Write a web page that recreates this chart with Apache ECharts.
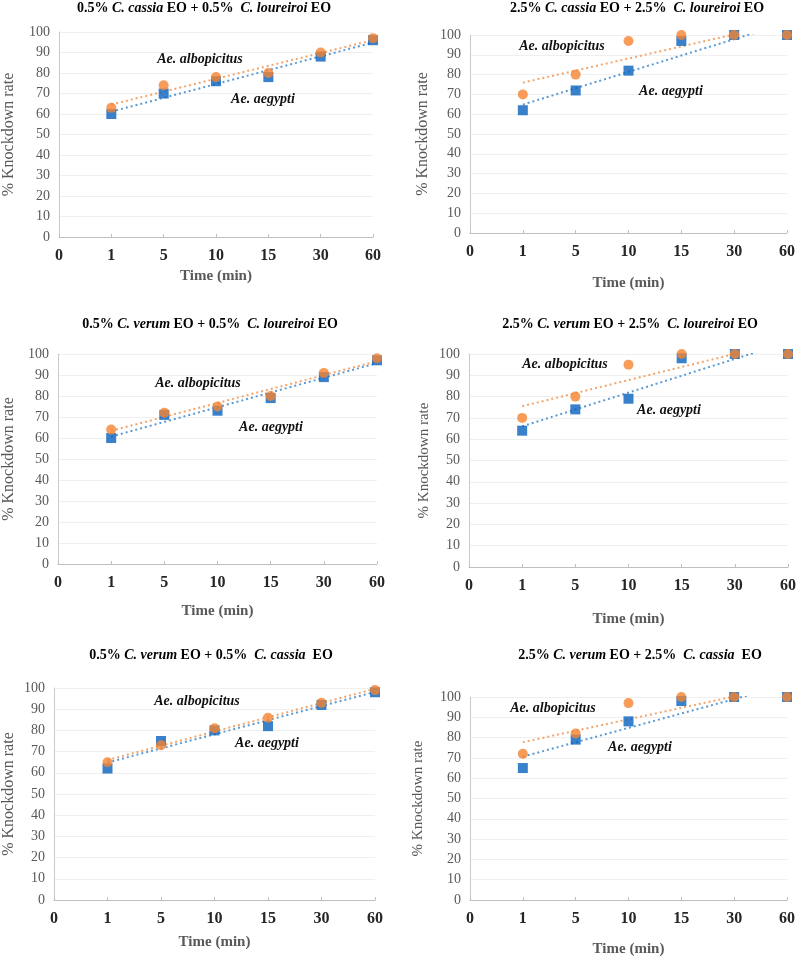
<!DOCTYPE html>
<html>
<head>
<meta charset="utf-8">
<script src="https://cdn.jsdelivr.net/npm/echarts@6/dist/echarts.min.js"></script>
<style>
html,body{margin:0;padding:0;background:#fff;}
#c{width:799px;height:958px;}
</style>
</head>
<body>
<div id="c"></div>
<script>
// ---- data ----
const xLabels = ['0', '1', '5', '10', '15', '30', '60'];
const xIdx = [1, 2, 3, 4, 5, 6];

const aegypti1 = [60, 70, 76, 78, 88, 96];
const albo1    = [63, 74, 78, 80, 90, 97];
const aegypti2 = [62, 72, 82, 97, 100, 100];
const albo2    = [70, 80, 97, 100, 100, 100];
const aegypti3 = [60, 71, 73, 79, 89, 97];
const albo3    = [64, 72, 75, 80, 91, 98];
const aegypti4 = [64, 74, 79, 98, 100, 100];
const albo4    = [70, 80, 95, 100, 100, 100];
const aegypti5 = [62, 75, 80, 82, 92, 98];
const albo5    = [65, 73, 81, 86, 93, 99];
const aegypti6 = [65, 79, 88, 98, 100, 100];
const albo6    = [72, 82, 97, 100, 100, 100];

const titles = [
  ['0.5% ', 'C. cassia', ' EO + 0.5%  ', 'C. loureiroi', ' EO'],
  ['2.5% ', 'C. cassia', ' EO + 2.5%  ', 'C. loureiroi', ' EO'],
  ['0.5% ', 'C. verum', ' EO + 0.5%  ', 'C. loureiroi', ' EO'],
  ['2.5% ', 'C. verum', ' EO + 2.5%  ', 'C. loureiroi', ' EO'],
  ['0.5% ', 'C. verum', ' EO + 0.5%  ', 'C. cassia', '  EO'],
  ['2.5% ', 'C. verum', ' EO + 2.5%  ', 'C. cassia', '  EO']
];
const speciesA = 'Ae. albopicitus';
const speciesB = 'Ae. aegypti';
const xName = 'Time (min)';
const yName = '% Knockdown rate';

// ---- layout ----
const SERIF = "'Liberation Serif','Times New Roman',serif";
const panels = [
  {blue: aegypti1, orange: albo1, grid: {left: 58, top: 32, width: 315, height: 205}, xGap: 32, yGap: 42, yFs: 16,
   title: [204, 8], aPos: [200, 59], bPos: [263, 99]},
  {blue: aegypti2, orange: albo2, grid: {left: 470, top: 35, width: 317, height: 198}, xGap: 43, yGap: 39, yFs: 16,
   title: [637, 8], aPos: [562, 46], bPos: [671, 91]},
  {blue: aegypti3, orange: albo3, grid: {left: 57, top: 354, width: 320, height: 210}, xGap: 40, yGap: 41, yFs: 16,
   title: [210, 324], aPos: [198, 383], bPos: [271, 427]},
  {blue: aegypti4, orange: albo4, grid: {left: 469, top: 354, width: 319, height: 213}, xGap: 45, yGap: 37, yFs: 15,
   title: [630, 324], aPos: [565, 364], bPos: [669, 410]},
  {blue: aegypti5, orange: albo5, grid: {left: 53, top: 688, width: 322, height: 212}, xGap: 35, yGap: 37, yFs: 16,
   title: [211, 655], aPos: [197, 701], bPos: [267, 743]},
  {blue: aegypti6, orange: albo6, grid: {left: 470, top: 697, width: 317, height: 205}, xGap: 42, yGap: 44, yFs: 15,
   title: [640, 655], aPos: [553, 708], bPos: [640, 747]}
];

function fit(ys) {
  const n = xIdx.length;
  const mx = xIdx.reduce((a, b) => a + b, 0) / n;
  const my = ys.reduce((a, b) => a + b, 0) / n;
  let sxy = 0, sxx = 0;
  for (let i = 0; i < n; i++) { sxy += (xIdx[i] - mx) * (ys[i] - my); sxx += (xIdx[i] - mx) ** 2; }
  const b = sxy / sxx, a = my - b * mx;
  const x0 = xIdx[0], x1 = xIdx[n - 1];
  return [[x0, a + b * x0], [x1, a + b * x1]];
}

const BLUE = '#0862BE', ORANGE = '#F5832F';
const grids = [], xAxes = [], yAxes = [], series = [], graphics = [];

panels.forEach((p, k) => {
  grids.push(Object.assign({containLabel: false}, p.grid));
  xAxes.push({
    type: 'value', gridIndex: k, min: 0, max: 6, interval: 1,
    name: xName, nameLocation: 'middle', nameGap: p.xGap,
    nameTextStyle: {fontFamily: SERIF, fontSize: 15, fontWeight: 'bold', color: '#595959'},
    axisLine: {show: true, lineStyle: {color: '#BFBFBF'}},
    axisTick: {show: true, inside: true, length: 3, lineStyle: {color: '#BFBFBF'}},
    splitLine: {show: false},
    axisLabel: {fontFamily: SERIF, fontSize: 16, fontWeight: 'bold', color: '#262626', margin: 11,
      formatter: v => xLabels[v]}
  });
  yAxes.push({
    type: 'value', gridIndex: k, min: 0, max: 100, interval: 10,
    name: yName, nameLocation: 'middle', nameGap: p.yGap,
    nameTextStyle: {fontFamily: SERIF, fontSize: p.yFs, color: '#595959'},
    axisLine: {show: true, lineStyle: {color: '#C8C8C8'}},
    axisTick: {show: false},
    splitLine: {show: true, lineStyle: {color: '#EFEFEF'}},
    axisLabel: {fontFamily: SERIF, fontSize: 14, color: '#595959', margin: 9}
  });
  const base = {xAxisIndex: k, yAxisIndex: k, animation: false, silent: true};
  series.push(Object.assign({type: 'line', data: fit(p.blue), symbol: 'none', clip: true, z: 2,
    lineStyle: {color: '#5B9BD5', width: 2, type: [2, 3]}}, base));
  series.push(Object.assign({type: 'line', data: fit(p.orange), symbol: 'none', clip: true, z: 2,
    lineStyle: {color: '#F4A46A', width: 2, type: [2, 3]}}, base));
  series.push(Object.assign({type: 'scatter', symbol: 'rect', symbolSize: 10, z: 3,
    itemStyle: {color: BLUE},
    data: p.blue.map((v, i) => [xIdx[i], v])}, base));
  series.push(Object.assign({type: 'scatter', symbol: 'circle', symbolSize: 10, z: 4,
    itemStyle: {color: ORANGE},
    data: p.orange.map((v, i) => [xIdx[i], v])}, base));

  const t = titles[k];
  graphics.push({
    type: 'text', x: p.title[0], y: p.title[1], silent: true, z: 100,
    style: {
      text: '{b|' + t[0] + '}{i|' + t[1] + '}{b|' + t[2] + '}{i|' + t[3] + '}{b|' + t[4] + '}',
      textAlign: 'center', align: 'center', textVerticalAlign: 'middle', verticalAlign: 'middle',
      rich: {
        b: {fontFamily: SERIF, fontSize: 14, fontWeight: 'bold', fill: '#000', color: '#000'},
        i: {fontFamily: SERIF, fontSize: 14, fontWeight: 'bold', fontStyle: 'italic', fill: '#000', color: '#000'}
      }
    }
  });
  [[speciesA, p.aPos], [speciesB, p.bPos]].forEach(([txt, pos]) => {
    graphics.push({
      type: 'text', x: pos[0], y: pos[1], silent: true, z: 100,
      style: {text: txt, fontFamily: SERIF, fontSize: 14, fontWeight: 'bold', fontStyle: 'italic', fill: '#111',
        textAlign: 'center', align: 'center', textVerticalAlign: 'middle', verticalAlign: 'middle'}
    });
  });
});

const chart = echarts.init(document.getElementById('c'), null, {renderer: 'canvas'});
chart.setOption({
  animation: false,
  backgroundColor: '#fff',
  grid: grids, xAxis: xAxes, yAxis: yAxes, series: series,
  graphic: graphics
});
</script>
</body>
</html>
